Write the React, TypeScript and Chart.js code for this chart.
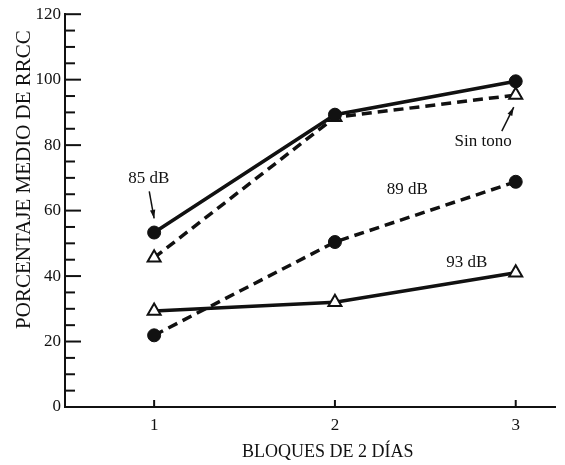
import React, { useEffect, useRef } from 'react';
import { Chart, registerables } from 'chart.js';

Chart.register(...registerables);

// ---- data ----
const BLOCKS = [1, 2, 3];
const X_TICK_VALUES = [1, 2, 3];
const Y_MAJOR_STEP = 20;
const Y_MINOR_STEP = 5;
const SERIES_85 = [53.3, 89.3, 99.5];
const SERIES_SIN_TONO = [45.6, 88.5, 95.3];
const SERIES_89 = [21.9, 50.4, 68.8];
const SERIES_93 = [29.3, 32.0, 41.0];
const SERIES_NAMES = ['85 dB', 'Sin tono', '89 dB', '93 dB'];
const X_TITLE = 'BLOQUES DE 2 DÍAS';
const Y_TITLE = 'PORCENTAJE MEDIO DE RRCC';

const FONT = '"Liberation Serif", "DejaVu Serif", serif';
const INK = '#111';

const toPoints = (vals: number[]) => vals.map((v, i) => ({ x: BLOCKS[i], y: v }));

// annotation labels (in data coordinates)
const ANNOTATIONS = [
  { text: SERIES_NAMES[0], x: 0.97, y: 69.9, arrow: [0.973, 65.9, 1.0, 57.6] },
  { text: SERIES_NAMES[1], x: 2.82, y: 81.2, arrow: [2.923, 84.3, 2.989, 91.6] },
  { text: SERIES_NAMES[2], x: 2.4, y: 66.3, arrow: null },
  { text: SERIES_NAMES[3], x: 2.73, y: 44.0, arrow: null },
];

const decorPlugin = {
  id: 'decor',
  afterDraw(chart: any) {
    const { ctx, chartArea, scales } = chart;
    const xs = scales.x;
    const ys = scales.y;
    ctx.save();
    ctx.strokeStyle = INK;
    ctx.lineWidth = 2;
    // inward y ticks
    ys.ticks.forEach((t: any) => {
      if (t.value === 0) return;
      const py = ys.getPixelForValue(t.value);
      const len = t.value % Y_MAJOR_STEP === 0 ? 16 : 10;
      ctx.beginPath();
      ctx.moveTo(chartArea.left, py);
      ctx.lineTo(chartArea.left + len, py);
      ctx.stroke();
    });
    // inward x ticks
    X_TICK_VALUES.forEach((v) => {
      const px = xs.getPixelForValue(v);
      ctx.beginPath();
      ctx.moveTo(px, chartArea.bottom);
      ctx.lineTo(px, chartArea.bottom - 7);
      ctx.stroke();
    });
    // titles
    ctx.fillStyle = INK;
    ctx.textAlign = 'center';
    ctx.textBaseline = 'middle';
    ctx.font = `18px ${FONT}`;
    ctx.fillText(X_TITLE, xs.getPixelForValue(1.96), 452);
    ctx.save();
    ctx.font = `21px ${FONT}`;
    ctx.translate(24, ys.getPixelForValue(69.5));
    ctx.rotate(-Math.PI / 2);
    ctx.fillText(Y_TITLE, 0, 0);
    ctx.restore();
    // annotations
    ctx.font = `17px ${FONT}`;
    ANNOTATIONS.forEach((a) => {
      ctx.fillText(a.text, xs.getPixelForValue(a.x), ys.getPixelForValue(a.y));
      if (a.arrow) {
        const x1 = xs.getPixelForValue(a.arrow[0]);
        const y1 = ys.getPixelForValue(a.arrow[1]);
        const x2 = xs.getPixelForValue(a.arrow[2]);
        const y2 = ys.getPixelForValue(a.arrow[3]);
        ctx.lineWidth = 1.5;
        ctx.beginPath();
        ctx.moveTo(x1, y1);
        ctx.lineTo(x2, y2);
        ctx.stroke();
        const ang = Math.atan2(y2 - y1, x2 - x1);
        const h = 9;
        ctx.beginPath();
        ctx.moveTo(x2, y2);
        ctx.lineTo(x2 - h * Math.cos(ang - 0.3), y2 - h * Math.sin(ang - 0.3));
        ctx.lineTo(x2 - h * Math.cos(ang + 0.3), y2 - h * Math.sin(ang + 0.3));
        ctx.closePath();
        ctx.fill();
      }
    });
    ctx.restore();
  },
};

export default function App() {
  const ref = useRef<HTMLCanvasElement | null>(null);
  useEffect(() => {
    if (!ref.current) return;
    const circle = { pointStyle: 'circle', pointRadius: 6.5, pointBackgroundColor: INK, pointBorderColor: INK, pointBorderWidth: 1 };
    const tri = { pointStyle: 'triangle', pointRadius: 7.5, pointBackgroundColor: '#fff', pointBorderColor: INK, pointBorderWidth: 2 };
    const chart = new Chart(ref.current, {
      type: 'line',
      data: {
        datasets: [
          { label: SERIES_NAMES[0], data: toPoints(SERIES_85), borderColor: INK, borderWidth: 3.5, ...circle },
          { label: SERIES_NAMES[1], data: toPoints(SERIES_SIN_TONO), borderColor: INK, borderWidth: 3.5, borderDash: [10, 6], ...tri },
          { label: SERIES_NAMES[2], data: toPoints(SERIES_89), borderColor: INK, borderWidth: 3.5, borderDash: [10, 6], ...circle },
          { label: SERIES_NAMES[3], data: toPoints(SERIES_93), borderColor: INK, borderWidth: 3.5, ...tri },
        ] as any,
      },
      options: {
        animation: false,
        responsive: false,
        maintainAspectRatio: false,
        layout: { padding: { left: 0, top: 14, right: 0, bottom: 0 } },
        plugins: { legend: { display: false }, tooltip: { enabled: false } },
        scales: {
          x: {
            type: 'linear',
            min: 0.507,
            max: 3.22,
            afterBuildTicks: (s: any) => {
              s.ticks = X_TICK_VALUES.map((v) => ({ value: v }));
            },
            afterFit: (s: any) => {
              s.height = 58;
              s.paddingLeft = 0;
              s.paddingRight = 0;
            },
            grid: { display: false, drawTicks: false },
            border: { display: true, color: INK, width: 2 },
            ticks: {
              padding: 8,
              color: INK,
              font: { family: FONT, size: 17 },
              callback: (v: any) => String(v),
            },
          },
          y: {
            type: 'linear',
            min: 0,
            max: 120,
            afterFit: (s: any) => {
              s.width = 65;
            },
            grid: { display: false, drawTicks: false },
            border: { display: true, color: INK, width: 2 },
            ticks: {
              stepSize: Y_MINOR_STEP,
              autoSkip: false,
              padding: 4,
              color: INK,
              font: { family: FONT, size: 17 },
              callback: (v: any) => (Number(v) % Y_MAJOR_STEP === 0 ? String(v) : ''),
            },
          },
        },
      } as any,
      plugins: [decorPlugin],
    });
    return () => chart.destroy();
  }, []);
  return (
    <div style={{ position: 'fixed', left: 0, top: 0, width: 565, height: 465, background: '#fff' }}>
      <canvas ref={ref} width={565} height={465} style={{ width: 565, height: 465 }} />
    </div>
  );
}
